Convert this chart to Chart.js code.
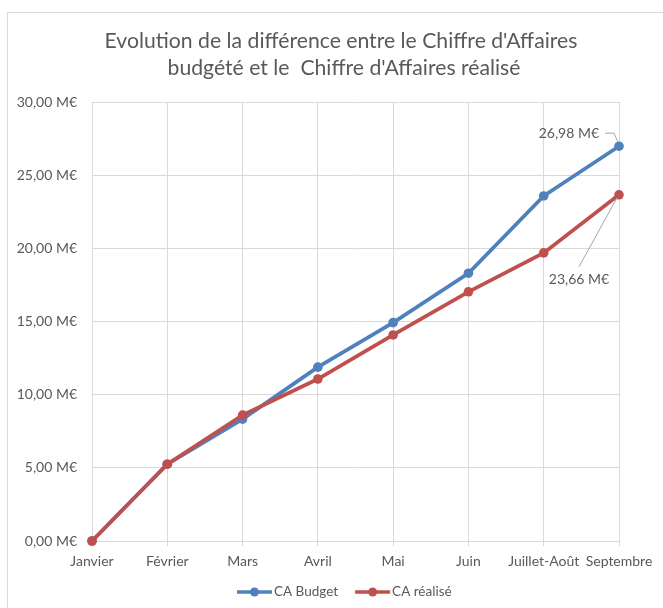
<!DOCTYPE html>
<html>
<head>
<meta charset="utf-8">
<script src="https://cdn.jsdelivr.net/npm/chart.js@4.4.1/dist/chart.umd.min.js"></script>
<style>
  html, body { margin: 0; padding: 0; background: #fff; }
  #wrap { position: relative; width: 663px; height: 608px; }
</style>
</head>
<body>
<div id="wrap"><canvas id="caChart" width="663" height="608"></canvas></div>
<script>
// months shown on the x axis
const mois = ["Janvier", "Février", "Mars", "Avril", "Mai", "Juin", "Juillet-Août", "Septembre"];
// cumulative turnover, millions of euros
const caBudget = [0, 5.25, 8.33, 11.88, 14.92, 18.3, 23.58, 26.98];
const caRealise = [0, 5.25, 8.6, 11.07, 14.08, 17.03, 19.69, 23.66];
const yTicks = [0, 5, 10, 15, 20, 25, 30];
const titre = ["Evolution de la différence entre le Chiffre d'Affaires", "budgété et le  Chiffre d'Affaires réalisé"];

const BLUE = "#4f81bd";
const RED = "#c0504d";
const TXT = "#595959";
const GRID = "#d9d9d9";
const FONT = "Lato, 'Open Sans', sans-serif";

function euro(v) {
  return v.toFixed(2).replace(".", ",") + " M€";
}

// outer frame + title (excel centres it a bit right of the canvas middle)
const framePlugin = {
  id: "frame",
  beforeDraw(chart) {
    const ctx = chart.ctx;
    ctx.save();
    ctx.strokeStyle = GRID;
    ctx.lineWidth = 1;
    ctx.strokeRect(7.5, 12.5, 700, 700);
    ctx.font = "21.2px " + FONT;
    ctx.fillStyle = TXT;
    ctx.textAlign = "center";
    ctx.textBaseline = "alphabetic";
    ctx.fillText(titre[0], 341, 48);
    ctx.fillText(titre[1], 344, 75);
    ctx.restore();
  }
};

// legend drawn by hand: line with a dot, then the text
const legendPlugin = {
  id: "handLegend",
  afterDraw(chart) {
    const ctx = chart.ctx;
    const y = 592;
    ctx.save();
    ctx.font = "13.5px " + FONT;
    ctx.textBaseline = "middle";
    ctx.textAlign = "left";
    let x = 237;
    chart.data.datasets.forEach(ds => {
      ctx.strokeStyle = ds.borderColor;
      ctx.lineWidth = 3.5;
      ctx.beginPath(); ctx.moveTo(x, y); ctx.lineTo(x + 35, y); ctx.stroke();
      ctx.fillStyle = ds.borderColor;
      ctx.beginPath(); ctx.arc(x + 17.5, y, 4.5, 0, Math.PI * 2); ctx.fill();
      ctx.fillStyle = TXT;
      ctx.fillText(ds.label, x + 37, y);
      x += 37 + ctx.measureText(ds.label).width + 17;
    });
    ctx.restore();
  }
};

// data labels on the last points with their leader lines
const lastLabels = {
  id: "lastLabels",
  afterDatasetsDraw(chart) {
    const ctx = chart.ctx;
    const n = mois.length - 1;
    const pb = chart.getDatasetMeta(0).data[n];
    const pr = chart.getDatasetMeta(1).data[n];
    ctx.save();
    ctx.font = "14px " + FONT;
    ctx.fillStyle = TXT;
    ctx.textBaseline = "middle";

    ctx.textAlign = "right";
    ctx.fillText(euro(caBudget[n]), pb.x - 20, pb.y - 13);
    ctx.strokeStyle = "#a6a6a6";
    ctx.lineWidth = 1;
    ctx.beginPath();
    ctx.moveTo(pb.x - 14, pb.y - 13);
    ctx.lineTo(pb.x - 5, pb.y - 13);
    ctx.lineTo(pb.x - 1, pb.y - 4);
    ctx.stroke();

    ctx.textAlign = "center";
    ctx.fillText(euro(caRealise[n]), pr.x - 40, pr.y + 85);
    ctx.beginPath();
    ctx.moveTo(pr.x - 40, pr.y + 72);
    ctx.lineTo(pr.x - 2, pr.y + 3);
    ctx.stroke();
    ctx.restore();
  }
};

new Chart(document.getElementById("caChart"), {
  type: "line",
  data: {
    labels: mois,
    datasets: [
      {
        label: "CA Budget",
        data: caBudget,
        borderColor: BLUE,
        backgroundColor: BLUE,
        borderWidth: 3.75,
        pointRadius: 4.8,
        pointHoverRadius: 4.8,
        pointBorderWidth: 0,
        tension: 0,
        clip: false,
        order: 2
      },
      {
        label: "CA réalisé",
        data: caRealise,
        borderColor: RED,
        backgroundColor: RED,
        borderWidth: 3.75,
        pointRadius: 4.8,
        pointHoverRadius: 4.8,
        pointBorderWidth: 0,
        tension: 0,
        clip: false,
        order: 1
      }
    ]
  },
  options: {
    responsive: false,
    animation: false,
    devicePixelRatio: 1,
    layout: { padding: { left: 8, right: 44, top: 102, bottom: 37 } },
    plugins: {
      tooltip: { enabled: false },
      title: { display: false },
      legend: { display: false }
    },
    scales: {
      x: {
        offset: false,
        afterFit(scale) { scale.height = 30; },
        grid: { color: GRID, lineWidth: 1, drawTicks: true, tickLength: 5, tickColor: GRID },
        border: { color: GRID },
        ticks: { color: TXT, font: { family: FONT, size: 14 }, padding: 7, maxRotation: 0, autoSkip: false }
      },
      y: {
        min: 0,
        max: 30,
        afterBuildTicks(scale) { scale.ticks = yTicks.map(v => ({ value: v })); },
        afterFit(scale) { scale.width = 84; },
        grid: { color: GRID, lineWidth: 1, drawTicks: false },
        border: { display: false },
        ticks: { color: TXT, font: { family: FONT, size: 14 }, padding: 15, callback: v => euro(v) }
      }
    }
  },
  plugins: [framePlugin, lastLabels, legendPlugin]
});
</script>
</body>
</html>
